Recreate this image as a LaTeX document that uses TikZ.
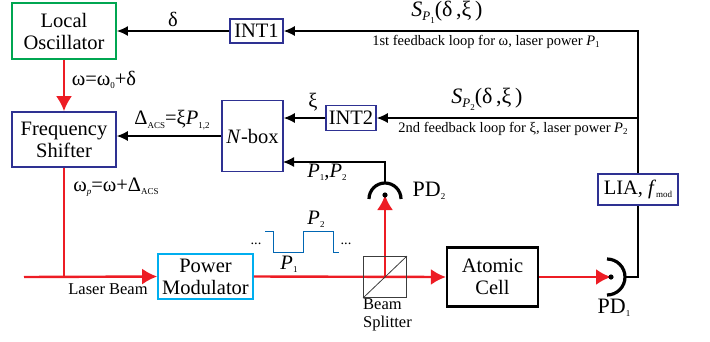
\documentclass[tikz,border=0pt]{standalone}
\usepackage{fontspec}
\setmainfont{LiberationSerif-Regular.ttf}[ItalicFont=LiberationSerif-Italic.ttf,BoldFont=LiberationSerif-Bold.ttf]
\usetikzlibrary{arrows.meta}
\definecolor{lred}{RGB}{237,28,36}
\definecolor{lgreen}{RGB}{0,166,81}
\definecolor{lblue}{RGB}{46,49,146}
\definecolor{lcyan}{RGB}{0,174,239}
\definecolor{wblue}{RGB}{0,102,179}
\definecolor{bsgray}{RGB}{60,60,60}
\newcommand\lsub[1]{\raisebox{-0.35ex}{\fontsize{9}{9}\selectfont #1}}
\newcommand\msub[1]{\raisebox{-0.45ex}{\fontsize{13}{13}\selectfont #1}}
\begin{document}
\begin{tikzpicture}[x=1pt,y=-1pt,
  box/.style={draw=lblue,line width=1.6pt,inner sep=0pt,align=center,
    font=\fontsize{20.5}{22}\selectfont},
  big/.style={font=\fontsize{20.5}{22}\selectfont,inner sep=0pt},
  huge/.style={font=\fontsize{22}{24}\selectfont,inner sep=0pt},
  small/.style={font=\fontsize{14.5}{16}\selectfont,inner sep=0pt},
  lbl/.style={font=\fontsize{16.5}{18}\selectfont,inner sep=0pt},
  blk/.style={line width=1.3pt,-{Latex[length=11pt,width=10pt]}},
  blkline/.style={line width=1.3pt},
  redarr/.style={draw=lred,line width=2.4pt,-{Latex[length=15pt,width=16pt]},color=lred},
  redline/.style={draw=lred,line width=2.4pt},
  pd/.style={line width=3.2pt},
]
\useasboundingbox (0,0) rectangle (710,341);

% boxes
\node[box,draw=lgreen,line width=1.9pt,minimum width=104,minimum height=56] (lo) at (64,31) {Local\\Oscillator};
\node[box,minimum width=53,minimum height=24] (int1) at (256.5,31) {INT1};
\node[box,minimum width=104,minimum height=55] (fs) at (64,139.5) {Frequency\\Shifter};
\node[box,minimum width=61,minimum height=71] (nbox) at (252.5,136) {\textit{N}-box};
\node[box,minimum width=50,minimum height=25] (int2) at (351,118) {INT2};
\node[box,minimum width=80,minimum height=31] (lia) at (638,189.5) {LIA, \textit{f}\lsub{mod}};
\node[box,draw=lcyan,minimum width=95,minimum height=45] (pm) at (205.5,276.5) {Power\\Modulator};
\node[box,draw=black,line width=2.2pt,minimum width=91,minimum height=59] (ac) at (492.5,277) {Atomic\\Cell};

% coordinates
\coordinate (start) at (24,277);
\coordinate (pdtwo) at (385,195);
\coordinate (pdtwotop) at (385,183);
\coordinate (pdone) at (611,277);
\coordinate (pdoneout) at (624,277);
\coordinate (nin) at (283,162);

% black connectors
\draw[blk] (int1.west) -- (lo.east);
\draw[blk] (lia.north) |- (int1.east);
\draw[blk] (lia.north |- int2.east) -- (int2.east);
\draw[blk] (int2.west) -- (int2.west -| nbox.east);
\draw[blk] (pdtwotop) |- (nin);
\draw[blk] (nbox.west) -- (nbox.west -| fs.east);
\draw[blkline] (pdoneout) -| (lia.south);

% red beams
\draw[redarr] (lo.south) -- (fs.north);
\draw[redline] (fs.south) -- (fs.south |- start);
\draw[redarr] (start) -- (pm.west);
\draw[redarr] (pm.east) -- (ac.west);
\draw[redarr] (385,277) -- (pdtwo);
\draw[redarr] (ac.east) -- (pdone);

% beam splitter
\node[draw=bsgray,line width=0.8pt,minimum width=43,minimum height=41,inner sep=0pt] (bs) at (385,277) {};
\draw[bsgray,line width=0.8pt] (bs.south west) -- (bs.north east);

% photodiodes
\draw[pd] (369,199) arc[start angle=180,end angle=0,radius=16pt];
\fill (pdtwo) circle[radius=2.6pt];
\draw[pd] (607,259) arc[start angle=90,end angle=-90,radius=18pt];
\fill (pdone) circle[radius=2.6pt];

% square wave
\draw[wblue,line width=1pt] (265,231) -- (273,231) -- (273,252) -- (303,252) -- (303,231) -- (333,231) -- (333,252) -- (339,252);
\node[small] (dl) at (256,244) {...};
\node[small] (dr) at (346,244) {...};
\node[big] (ptwow) at (316,219) {\textit{P}\lsub{2}};
\node[big] (ponew) at (289,264) {\textit{P}\lsub{1}};

% labels
\node[big] (ldelta) at (173,19) {δ};
\node[huge] (ls1) at (447,12) {\textit{S}\msub{\textit{P}\lsub{1}}(δ\,,ξ\,)};
\node[small] (lf1) at (486,42) {1st feedback loop for ω, laser power \textit{P}\lsub{1}};
\node[huge] (ls2) at (487,99) {\textit{S}\msub{\textit{P}\lsub{2}}(δ\,,ξ\,)};
\node[small] (lf2) at (513,129) {2nd feedback loop for ξ, laser power \textit{P}\lsub{2}};
\node[big] (lxi) at (313,102) {ξ};
\node[big] (lacs) at (172,120) {Δ\lsub{ACS}=ξ\textit{P}\lsub{1,2}};
\node[big] (lomega) at (104,80) {ω=ω\lsub{0}+δ};
\node[big] (lomegap) at (116,187) {ω\lsub{\textit{p}}=ω+Δ\lsub{ACS}};
\node[big] (lp12) at (327,172) {\textit{P}\lsub{1},\textit{P}\lsub{2}};
\node[huge] (lpd2) at (429,191) {PD\lsub{2}};
\node[huge] (lpd1) at (614,308) {PD\lsub{1}};
\node[lbl] (llb) at (108,289) {Laser Beam};
\node[lbl,align=left,anchor=north west] (lbs) at (363,298) {Beam\\Splitter};
\end{tikzpicture}
\end{document}
